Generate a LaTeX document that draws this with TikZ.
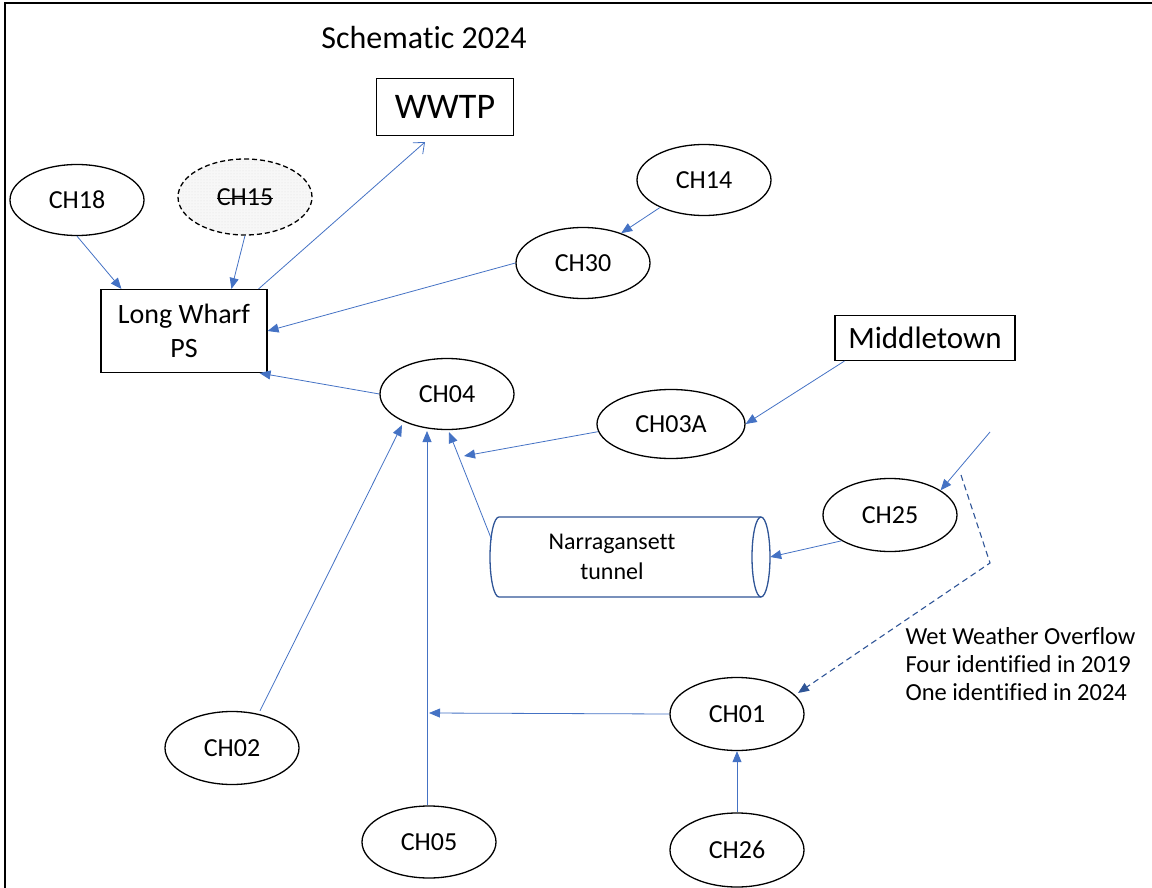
\documentclass[tikz,border=0pt]{standalone}
\usepackage{fontspec}
\setmainfont[Ligatures=NoCommon]{Carlito}
\usetikzlibrary{shapes.geometric,arrows.meta,calc,patterns}
\definecolor{arrowblue}{HTML}{4472C4}
\definecolor{darkblue}{HTML}{2F5597}
\begin{document}
\begin{tikzpicture}[x=1pt,y=-1pt,
  chnode/.style={ellipse,draw=black,line width=1.3pt,minimum width=134pt,minimum height=71pt,inner sep=0pt,font=\fontsize{26}{28}\selectfont},
  boxnode/.style={rectangle,draw=black,line width=1.1pt,inner sep=0pt},
  flow/.style={draw=arrowblue,line width=0.8pt,-{Triangle[length=11pt,width=9pt]}},
  openflow/.style={draw=arrowblue,line width=0.8pt,-{Straight Barb[length=9pt,width=15pt]}},
  overflow/.style={draw=darkblue,line width=1.1pt,dash pattern=on 6pt off 4pt,-{Triangle[length=11pt,width=9pt]}},
  tube/.style={draw=darkblue,line width=1.3pt}]
\useasboundingbox (0,0) rectangle (1152,888);
% frame
\draw[line width=1.3pt] (5,896) -- (5,3) -- (1160,3);

\node[font=\fontsize{32}{36}\selectfont] (title) at (424,38) {Schematic 2024};
\node[boxnode,minimum width=137pt,minimum height=57pt,font=\fontsize{36}{40}\selectfont] (WWTP) at (445,107) {WWTP};
\node[chnode] (CH18) at (77,200) {CH18};
\node[chnode,dashed,dash pattern=on 5pt off 3pt,minimum height=76pt,
  preaction={fill=gray!6},pattern=dots,pattern color=gray!25] (CH15) at (245,197) {CH15};
\draw[line width=1pt] ($(CH15.center)+(-28,2)$) -- ($(CH15.center)+(28,2)$);
\node[chnode] (CH14) at (704,180) {CH14};
\node[chnode] (CH30) at (583,263) {CH30};
\node[boxnode,minimum width=166pt,minimum height=83pt,align=center,font=\fontsize{28}{34}\selectfont] (LW) at (184,331) {Long Wharf\\PS};
\node[boxnode,minimum width=180pt,minimum height=45pt,font=\fontsize{31}{34}\selectfont] (MT) at (925,338) {Middletown};
\node[chnode] (CH04) at (447,394) {CH04};
\node[chnode,minimum width=148pt,minimum height=69pt] (CH03A) at (671,424) {CH03A};
\node[chnode,minimum height=73pt] (CH25) at (890,515) {CH25};
% tunnel
\node[rectangle,minimum width=280pt,minimum height=80pt,inner sep=0pt] (T) at (630,557) {};
\draw[tube] (761,517) -- (499,517) arc[start angle=90,end angle=270,x radius=9pt,y radius=40pt] -- (761,597);
\draw[tube] (761,557) ellipse[x radius=9pt,y radius=40pt];
\node[align=center,font=\fontsize{24}{30}\selectfont] (Tlabel) at (612,557) {Narragansett\\tunnel};
\node[chnode,minimum height=73pt] (CH01) at (737,714) {CH01};
\node[chnode,minimum height=73pt] (CH02) at (232,748) {CH02};
\node[chnode,minimum height=72pt] (CH05) at (429,842) {CH05};
\node[chnode,minimum height=74pt] (CH26) at (737,850) {CH26};
\node[align=left,anchor=west,font=\fontsize{24.5}{28}\selectfont] (legend) at (902,664) {Wet Weather Overflow\\Four identified in 2019\\One identified in 2024};

% free ends
\coordinate (j1) at (464,456);
\coordinate (j2) at (449,432);
\coordinate (j3) at (429,713);
\coordinate (j4) at (427,431);
\coordinate (j5) at (402,425);
\coordinate (f0) at (990,432);
\coordinate (d0) at (961,475);
\coordinate (d1) at (990,563);
\coordinate (d2) at (798,693);

% connectors
\draw[flow] (CH18.south) -- ($(LW.north west)+(21,0)$);
\draw[flow] (CH15.south) -- ($(LW.north west)+(131,0)$);
\draw[openflow] ($(LW.north east)+(-9,0)$) -- ($(WWTP.south)+(-20,6)$);
\draw[flow] (CH14.212) -- (CH30.38);
\draw[flow] (CH30.west) -- (LW.east);
\draw[flow] (CH04.west) -- ($(LW.south east)+(-8,0)$);
\draw[flow] (CH03A.186) -- (j1);
\draw[flow] ($(MT.south west)+(10,0)$) -- (CH03A.east);
\draw[flow] ($(T.west)+(2,-17)$) -- (j2);
\draw[flow] (CH25.208) -- (T.east);
\draw[flow] (f0) -- (CH25.26);
\draw[overflow] (d0) -- (d1) -- (d2);
\draw[flow] (CH01.west) -- (j3);
\draw[flow] ($(CH05.north)+(-2,0)$) -- (j4);
\draw[flow] ($(CH02.north)+(28,0)$) -- (j5);
\draw[flow] (CH26.north) -- (CH01.south);
\end{tikzpicture}
\end{document}
